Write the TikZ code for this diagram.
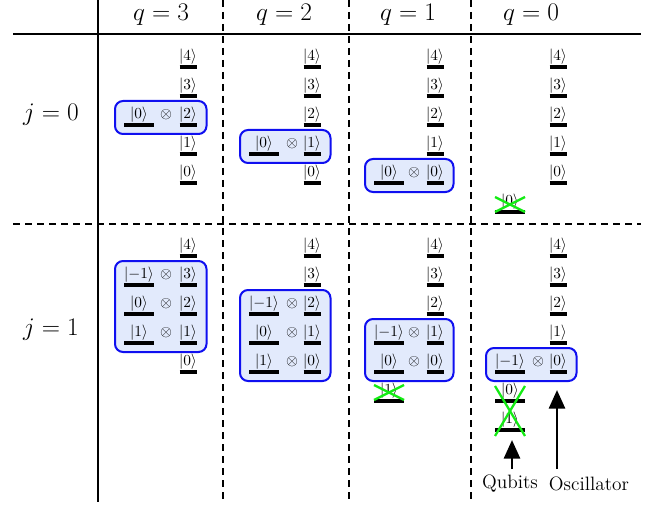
\RequirePackage{fix-cm}
\documentclass[tikz,border=0pt]{standalone}
\usetikzlibrary{arrows.meta}
\definecolor{boxblue}{RGB}{15,15,240}
\definecolor{boxfill}{RGB}{226,234,252}
\definecolor{xgreen}{RGB}{20,235,20}
\newcommand\lvl[5]{\node[ket] (#1) at (#2,#3) {$|{#5}\rangle$};\draw[bar] ({#2-#4},{#3+10}) -- ({#2+#4},{#3+10});}
\newcommand\osc[4]{\lvl{#1}{#2}{#3}{8.5}{#4}}
\newcommand\qbt[4]{\lvl{#1}{#2}{#3}{15}{#4}}
\newcommand\tens[3]{\node[ket] (#1) at (#2,#3) {$\otimes$};}
\newcommand\qbox[4]{\draw[qbox] ({#1-24},{#2-14}) rectangle ({#3+18.5},{#4+19});}
\newcommand\crossout[4]{\draw[xline] (#1,#2) -- (#3,#4); \draw[xline] (#3,#2) -- (#1,#4);}
\tikzset{
  ket/.style={inner sep=0pt, font=\fontsize{11.5}{13}\selectfont},
  bar/.style={line width=2.7pt},
  qbox/.style={draw=boxblue, fill=boxfill, line width=1.5pt, rounded corners=6pt},
  grid/.style={line width=1.4pt},
  gridd/.style={line width=1.4pt, dash pattern=on 5.25pt off 3.75pt},
  head/.style={font=\fontsize{19}{22}\selectfont},
  lab/.style={font=\fontsize{14.5}{17}\selectfont},
  xline/.style={draw=xgreen, line width=1.7pt},
  arr/.style={line width=2.2pt, -{Triangle[length=14pt,width=12pt]}}
}
\begin{document}
\begin{tikzpicture}[x=0.75pt,y=-0.75pt]
\useasboundingbox (0,0) rectangle (660,506);
% grid
\draw[grid] (13,34) -- (641,34);
\draw[grid] (98,0) -- (98,502);
\draw[gridd] (13,224) -- (641,224);
\draw[gridd] (223,0) -- (223,502);
\draw[gridd] (349,0) -- (349,502);
\draw[gridd] (471,0) -- (471,502);
% headers
\node[head] (hq3) at (161,15) {$q=3$};
\node[head] (hq2) at (284,15) {$q=2$};
\node[head] (hq1) at (408,15) {$q=1$};
\node[head] (hq0) at (531,15) {$q=0$};
\node[head] (hj0) at (51,115) {$j=0$};
\node[head] (hj1) at (51,330) {$j=1$};
% boxes
\qbox{139}{115}{188}{115}
\qbox{139}{275}{188}{333}
\qbox{264}{144}{312}{144}
\qbox{264}{304}{312}{362}
\qbox{389}{173}{435}{173}
\qbox{389}{333}{435}{362}
\qbox{510}{362}{558}{362}
% q=3, j=0
\osc{a4}{188}{57}{4}
\osc{a3}{188}{86}{3}
\osc{a2}{188}{115}{2}
\osc{a1}{188}{144}{1}
\osc{a0}{188}{173}{0}
\qbt{aq}{139}{115}{0}
\tens{at}{166}{115}
% q=3, j=1
\osc{b4}{188}{246}{4}
\osc{b3}{188}{275}{3}
\osc{b2}{188}{304}{2}
\osc{b1}{188}{333}{1}
\osc{b0}{188}{362}{0}
\qbt{bqa}{139}{275}{-1}
\qbt{bqb}{139}{304}{0}
\qbt{bqc}{139}{333}{1}
\tens{bta}{166}{275}
\tens{btb}{166}{304}
\tens{btc}{166}{333}
% q=2, j=0
\osc{c4}{312}{57}{4}
\osc{c3}{312}{86}{3}
\osc{c2}{312}{115}{2}
\osc{c1}{312}{144}{1}
\osc{c0}{312}{173}{0}
\qbt{cq}{264}{144}{0}
\tens{ct}{292}{144}
% q=2, j=1
\osc{d4}{312}{246}{4}
\osc{d3}{312}{275}{3}
\osc{d2}{312}{304}{2}
\osc{d1}{312}{333}{1}
\osc{d0}{312}{362}{0}
\qbt{dqa}{264}{304}{-1}
\qbt{dqb}{264}{333}{0}
\qbt{dqc}{264}{362}{1}
\tens{dta}{292}{304}
\tens{dtb}{292}{333}
\tens{dtc}{292}{362}
% q=1, j=0
\osc{e4}{435}{57}{4}
\osc{e3}{435}{86}{3}
\osc{e2}{435}{115}{2}
\osc{e1}{435}{144}{1}
\osc{e0}{435}{173}{0}
\qbt{eq}{389}{173}{0}
\tens{et}{414}{173}
% q=1, j=1
\osc{f4}{435}{246}{4}
\osc{f3}{435}{275}{3}
\osc{f2}{435}{304}{2}
\osc{f1}{435}{333}{1}
\osc{f0}{435}{362}{0}
\qbt{fqa}{389}{333}{-1}
\qbt{fqb}{389}{362}{0}
\tens{fta}{414}{333}
\tens{ftb}{414}{362}
\qbt{fqx}{389}{391}{1}
\crossout{374}{385}{404}{400}
% q=0, j=0
\osc{g4}{558}{57}{4}
\osc{g3}{558}{86}{3}
\osc{g2}{558}{115}{2}
\osc{g1}{558}{144}{1}
\osc{g0}{558}{173}{0}
\qbt{gqx}{510}{202}{0}
\crossout{495}{197}{525}{212}
% q=0, j=1
\osc{h4}{558}{246}{4}
\osc{h3}{558}{275}{3}
\osc{h2}{558}{304}{2}
\osc{h1}{558}{333}{1}
\osc{h0}{558}{362}{0}
\qbt{hqa}{510}{362}{-1}
\tens{hta}{538}{362}
\qbt{hqx}{510}{391}{0}
\qbt{hqy}{510}{420}{1}
\crossout{495}{386}{525}{436}
% labels and arrows
\node[lab] (qlab) at (510,484) {Qubits};
\node[lab] (olab) at (589,484) {Oscillator};
\coordinate (qtail) at (512,469);
\coordinate (qtip) at (512,440);
\coordinate (otail) at (557,469);
\coordinate (otip) at (557,390);
\draw[arr] (qtail) -- (qtip);
\draw[arr] (otail) -- (otip);
\end{tikzpicture}
\end{document}
